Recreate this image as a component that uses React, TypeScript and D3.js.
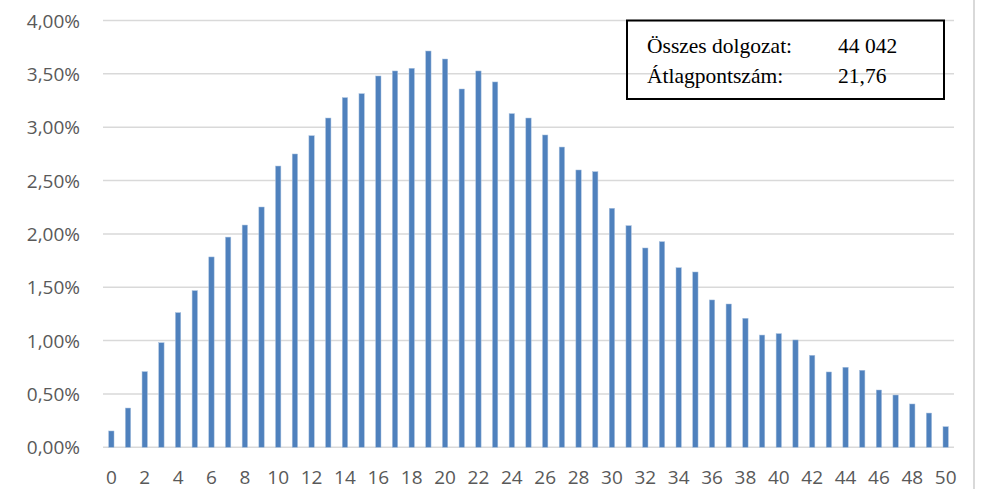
import React from "react";
import * as d3 from "d3";

const scores: number[] = d3.range(0, 51);
const shares: number[] = [
  0.153, 0.368, 0.709, 0.98, 1.262, 1.468, 1.784, 1.97, 2.083, 2.252,
  2.636, 2.749, 2.92, 3.086, 3.277, 3.314, 3.48, 3.527, 3.552, 3.714,
  3.639, 3.358, 3.527, 3.424, 3.127, 3.086, 2.927, 2.814, 2.599, 2.583,
  2.24, 2.077, 1.868, 1.927, 1.683, 1.643, 1.381, 1.343, 1.209, 1.052,
  1.065, 1.006, 0.862, 0.706, 0.75, 0.722, 0.537, 0.49, 0.406, 0.321,
  0.193,
];
const yTicks: number[] = [0, 0.5, 1, 1.5, 2, 2.5, 3, 3.5, 4];
const xTickLabels: number[] = d3.range(0, 51, 2);
const infoLabels: string[] = ["Összes dolgozat:", "Átlagpontszám:"];
const infoValues: string[] = ["44 042", "21,76"];

const W = 981;
const H = 489;
const plotLeft = 103;
const plotRight = 954;
const plotTop = 20.5;
const plotBottom = 447.3;

export default function App() {
  const x = d3
    .scaleBand<number>()
    .domain(scores)
    .range([plotLeft, plotRight])
    .paddingInner(0.68)
    .paddingOuter(0.34);
  const y = d3.scaleLinear().domain([0, 4]).range([plotBottom, plotTop]);
  const fmt = (v: number) => v.toFixed(2).replace(".", ",") + "%";

  return (
    <svg
      width={W}
      height={H}
      style={{ position: "absolute", left: 0, top: 0, background: "#fff" }}
    >
      <rect x={0} y={0} width={W} height={H} fill="#fff" />
      {yTicks.map((t) => (
        <g key={t}>
          <line
            x1={plotLeft}
            x2={plotRight}
            y1={y(t)}
            y2={y(t)}
            stroke="#D9D9D9"
            strokeWidth={1.5}
          />
          <text
            x={80}
            y={y(t) + 7}
            textAnchor="end"
            fontFamily="'Open Sans', sans-serif"
            fontSize={19}
            fill="#595959"
          >
            {fmt(t)}
          </text>
        </g>
      ))}
      {scores.map((s, i) => (
        <rect
          key={s}
          x={x(s)!}
          y={y(shares[i])}
          width={x.bandwidth()}
          height={y(0) - y(shares[i])}
          fill="#4F81BD"
          stroke="#A7C0DE"
          strokeWidth={0.5}
        />
      ))}
      {xTickLabels.map((s) => (
        <text
          key={s}
          x={x(s)! + x.bandwidth() / 2}
          y={483.5}
          textAnchor="middle"
          fontFamily="'Open Sans', sans-serif"
          fontSize={19}
          fill="#595959"
        >
          {s}
        </text>
      ))}
      <rect
        x={627}
        y={20.5}
        width={317}
        height={78.5}
        fill="none"
        stroke="#000"
        strokeWidth={2}
      />
      {infoLabels.map((l, i) => (
        <g key={l}>
          <text
            x={647}
            y={53 + i * 30}
            fontFamily="'Liberation Serif', 'Times New Roman', serif"
            fontSize={21.5}
            fill="#000"
          >
            {l}
          </text>
          <text
            x={838}
            y={53 + i * 30}
            fontFamily="'Liberation Serif', 'Times New Roman', serif"
            fontSize={21.5}
            fill="#000"
          >
            {infoValues[i]}
          </text>
        </g>
      ))}
      <line x1={974} x2={974} y1={0} y2={H} stroke="#D9D9D9" strokeWidth={2} />
    </svg>
  );
}
